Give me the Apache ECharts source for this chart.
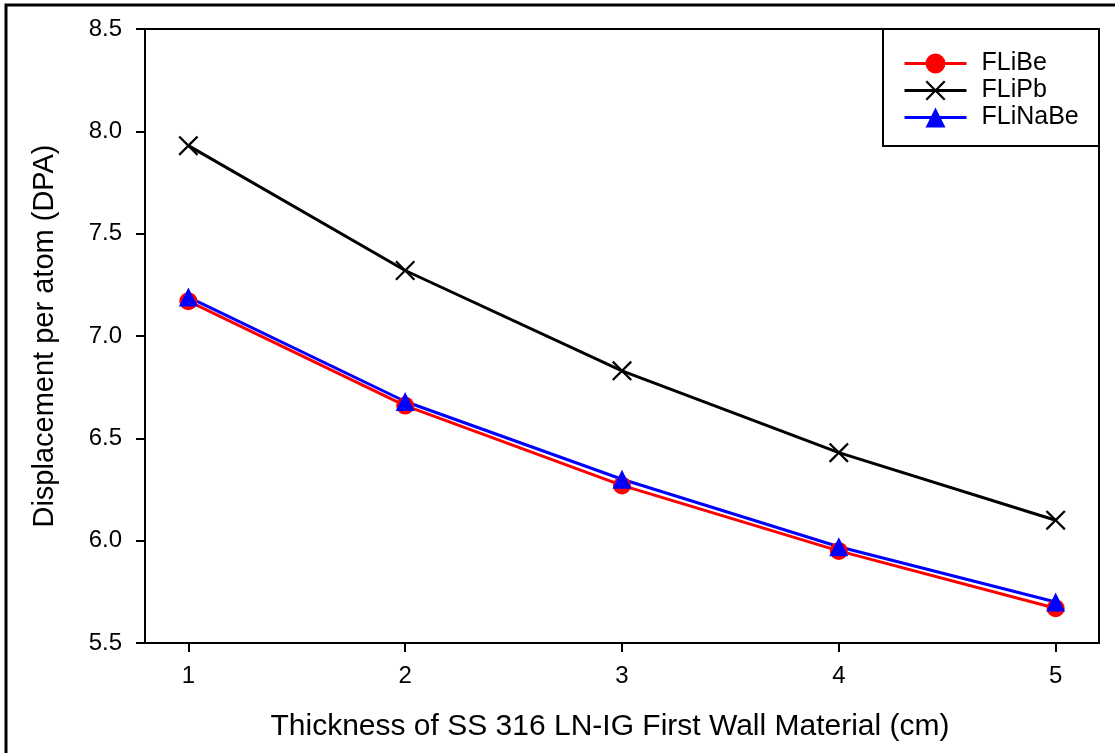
<!DOCTYPE html>
<html>
<head>
<meta charset="utf-8">
<script src="https://cdn.jsdelivr.net/npm/echarts@6/dist/echarts.min.js"></script>
<style>html,body{margin:0;padding:0;background:#fff;}#c{width:1115px;height:753px;}</style>
</head>
<body>
<div id="c"></div>
<script>
const thickness = [1, 2, 3, 4, 5];
const fliBe = [7.17, 6.66, 6.27, 5.95, 5.67];
const fliPb = [7.93, 7.32, 6.83, 6.43, 6.10];
const fliNaBe = [7.19, 6.68, 6.30, 5.97, 5.70];
const xTicks = [1, 2, 3, 4, 5];

const pair = arr => thickness.map((x, i) => [x, arr[i]]);
const FONT = '"Liberation Sans", Arial, sans-serif';
const crossPath = 'path://M0,1.6L1.6,0L10,8.4L18.4,0L20,1.6L11.6,10L20,18.4L18.4,20L10,11.6L1.6,20L0,18.4L8.4,10Z';

const chart = echarts.init(document.getElementById('c'), null, {renderer: 'canvas'});
chart.setOption({
  backgroundColor: '#fff',
  animation: false,
  textStyle: {fontFamily: FONT},
  grid: {left: 145, top: 29, right: 16, bottom: 110, show: true, borderColor: '#000', borderWidth: 2, containLabel: false},
  xAxis: {
    type: 'value', min: 0.8, max: 5.2,
    name: 'Thickness of SS 316 LN-IG First Wall Material (cm)',
    nameLocation: 'middle', nameGap: 69,
    nameTextStyle: {fontSize: 30, color: '#000', fontFamily: FONT, padding: [0, 24, 0, 0]},
    axisLine: {show: true, lineStyle: {color: '#000', width: 2}},
    axisTick: {show: true, length: 9, lineStyle: {color: '#000', width: 2}, customValues: xTicks},
    axisLabel: {fontSize: 24, color: '#000', margin: 21, customValues: xTicks, fontFamily: FONT},
    splitLine: {show: false}
  },
  yAxis: {
    type: 'value', min: 5.5, max: 8.5, interval: 0.5,
    name: 'Displacement per atom (DPA)',
    nameLocation: 'middle', nameGap: 86,
    nameTextStyle: {fontSize: 29, color: '#000', fontFamily: FONT},
    axisLine: {show: true, lineStyle: {color: '#000', width: 2}},
    axisTick: {show: true, length: 9, lineStyle: {color: '#000', width: 2}},
    axisLabel: {fontSize: 24, color: '#000', margin: 23, fontFamily: FONT, formatter: v => v.toFixed(1)},
    splitLine: {show: false}
  },
  legend: {
    orient: 'vertical', left: 898, top: 46,
    itemWidth: 62, itemHeight: 25, itemGap: 2,
    lineStyle: {width: 3},
    textStyle: {fontSize: 25, color: '#000', fontFamily: FONT, padding: [0, 0, 0, 10]},
    data: ['FLiBe', 'FLiPb', 'FLiNaBe']
  },
  graphic: [
    {type: 'rect', shape: {x: 883, y: 29, width: 216, height: 117}, style: {fill: 'none', stroke: '#000', lineWidth: 2}, z: 10},
    {type: 'rect', shape: {x: 6, y: 5, width: 1200, height: 800}, style: {fill: 'none', stroke: '#000', lineWidth: 3}, z: 10}
  ],
  series: [
    {name: 'FLiBe', type: 'line', data: pair(fliBe), symbol: 'circle', symbolSize: 18,
     lineStyle: {color: '#ff0000', width: 3}, itemStyle: {color: '#ff0000'}},
    {name: 'FLiPb', type: 'line', data: pair(fliPb), symbol: crossPath, symbolSize: 20,
     lineStyle: {color: '#000', width: 3}, itemStyle: {color: '#000'}},
    {name: 'FLiNaBe', type: 'line', data: pair(fliNaBe), symbol: 'triangle', symbolSize: 19,
     lineStyle: {color: '#0000ff', width: 3}, itemStyle: {color: '#0000ff'}}
  ]
});
</script>
</body>
</html>
